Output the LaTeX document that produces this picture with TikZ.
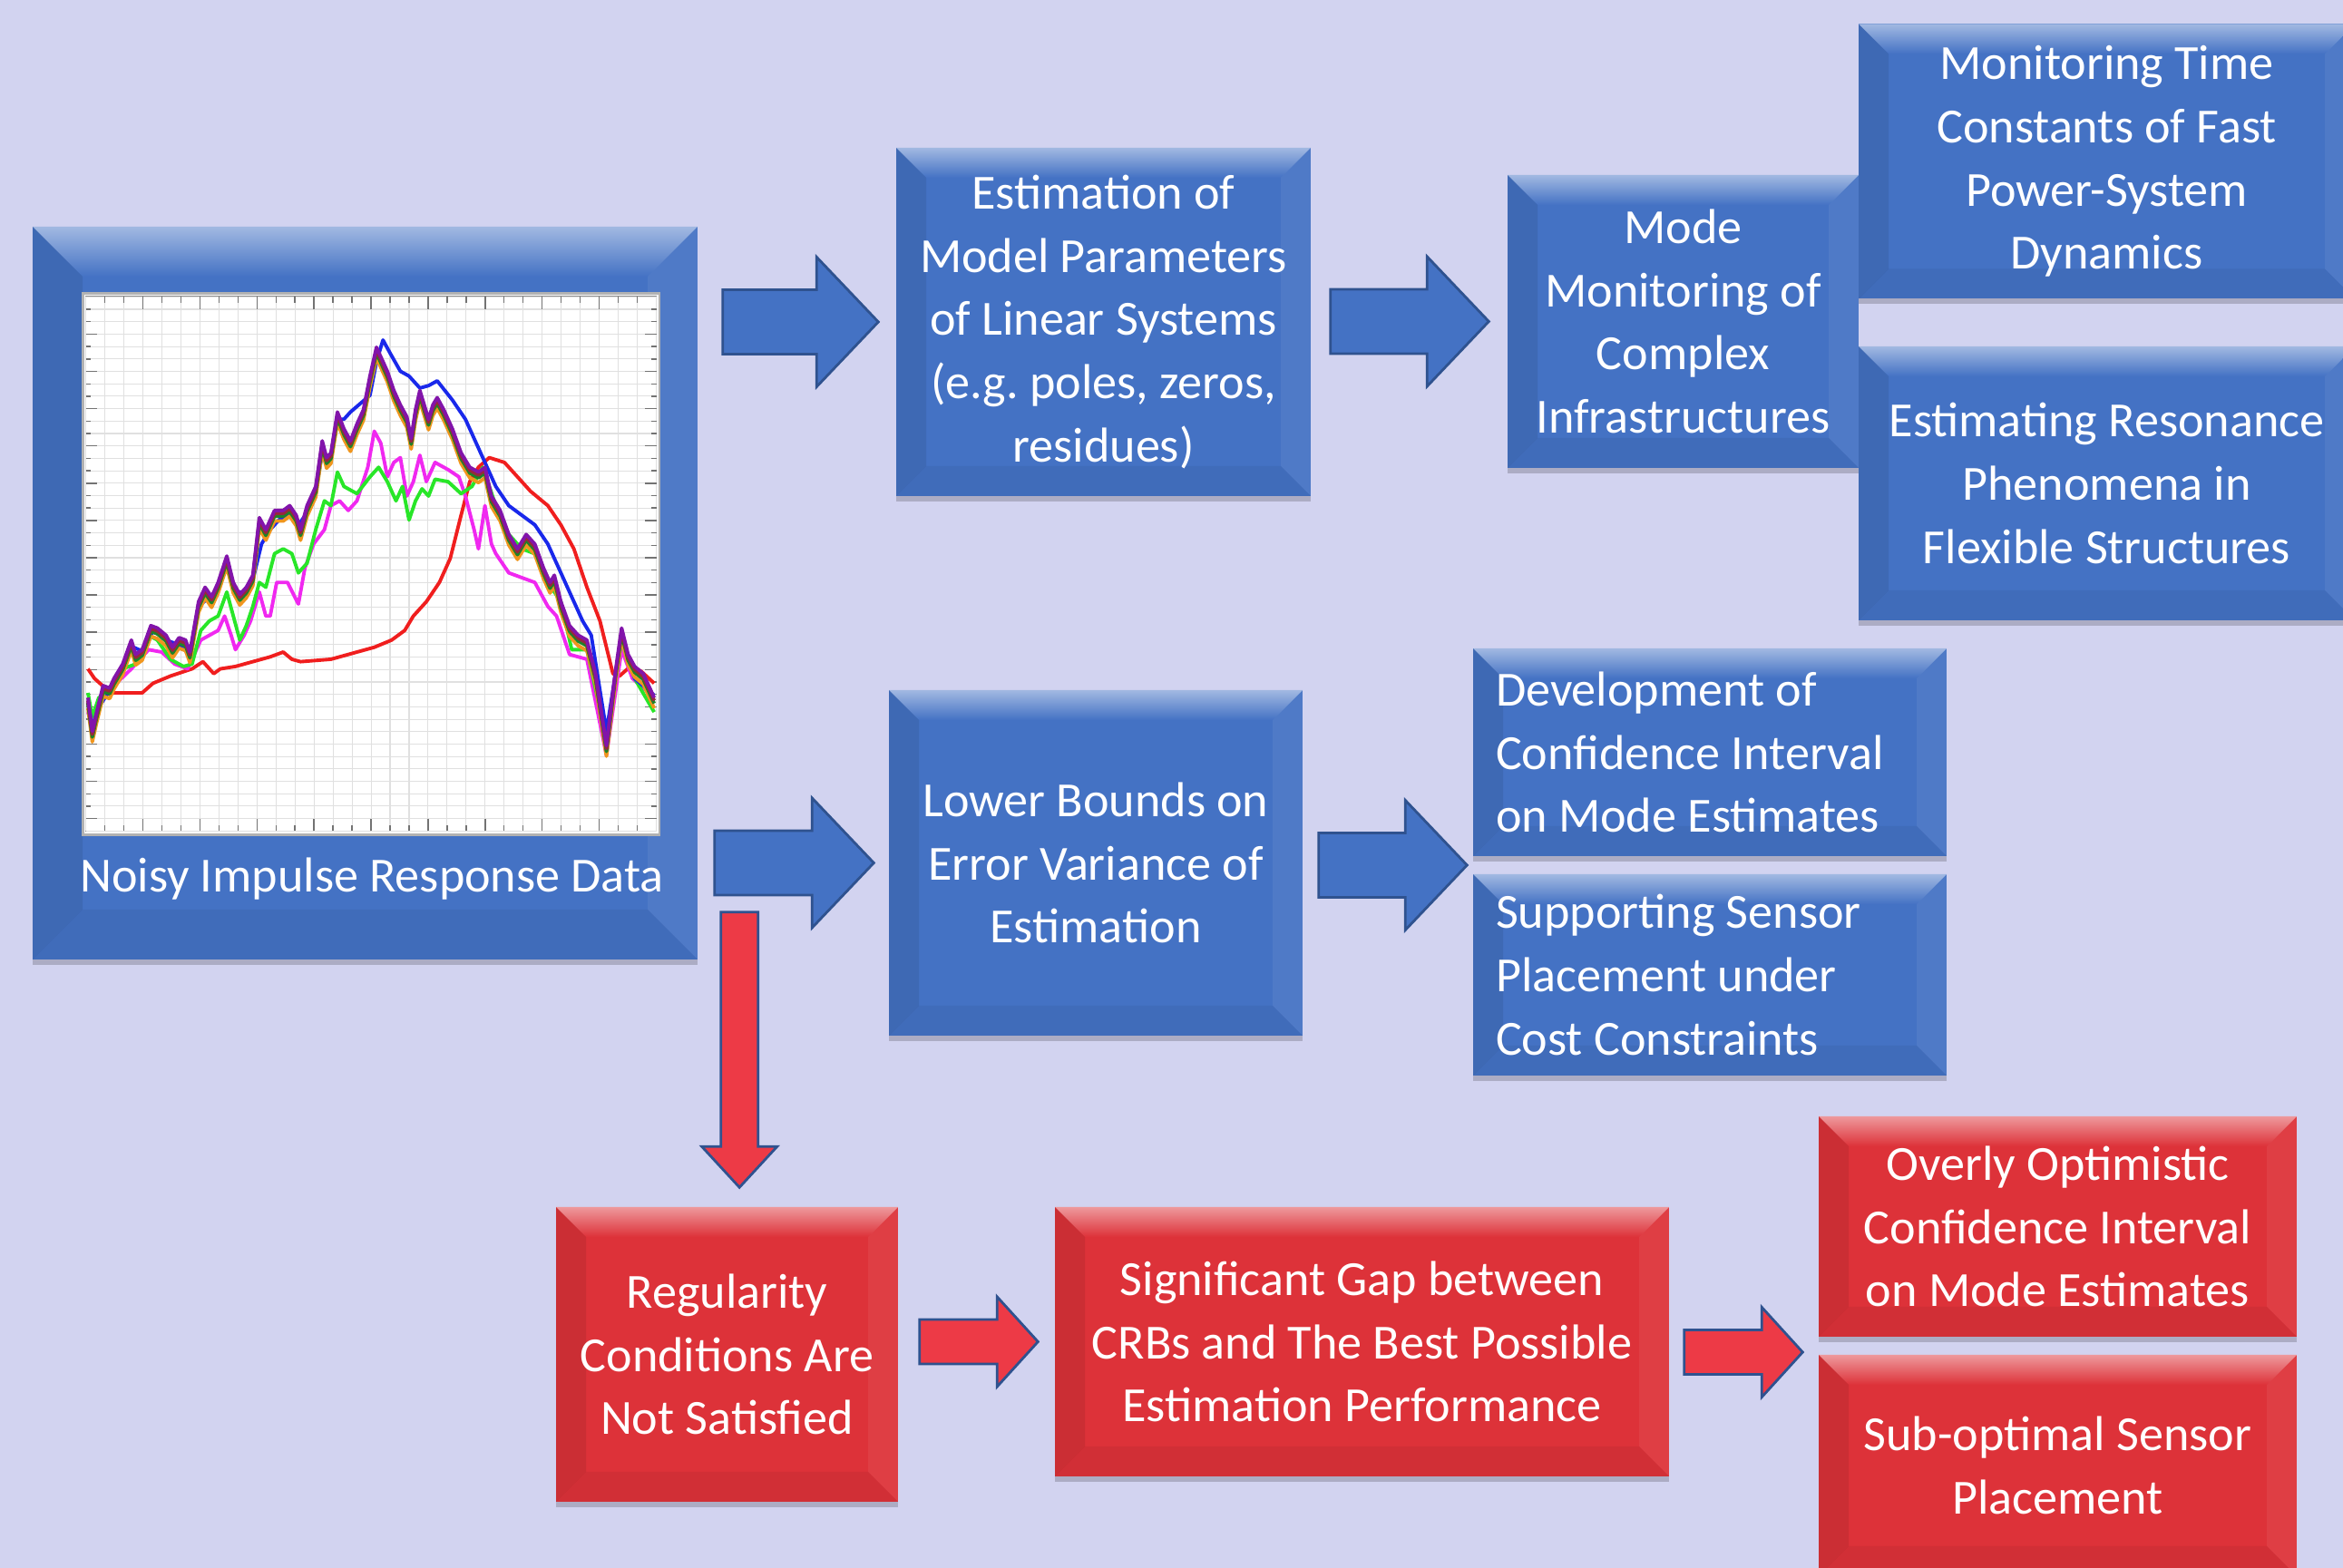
\documentclass[tikz,border=0pt]{standalone}
\usepackage{fontspec}
\setmainfont{Carlito}
\usetikzlibrary{calc, shadows}
\definecolor{bgcol}{RGB}{210,211,240}
\definecolor{boxblue}{RGB}{68,114,196}
\definecolor{boxred}{RGB}{221,50,57}
\definecolor{arrred}{RGB}{237,58,70}
\definecolor{arredge}{RGB}{47,82,143}
\definecolor{cblue}{RGB}{25,40,235}
\definecolor{cpurple}{RGB}{130,20,170}
\definecolor{cbrown}{RGB}{150,40,60}
\definecolor{corange}{RGB}{240,150,30}
\definecolor{cdkgreen}{RGB}{30,130,40}
\definecolor{cgreen}{RGB}{40,230,40}
\definecolor{cmagenta}{RGB}{240,40,240}
\definecolor{cred}{RGB}{240,30,30}

\tikzset{
  bevel/.style 2 args={path picture={
    \coordinate (pa) at (path picture bounding box.north west);
    \coordinate (pb) at (path picture bounding box.north east);
    \coordinate (pc) at (path picture bounding box.south east);
    \coordinate (pd) at (path picture bounding box.south west);
    \shade[top color=#2!50!white, bottom color=#2] (pa) -- (pb) -- ($(pb)+(-#1,-#1)$) -- ($(pa)+(#1,-#1)$) -- cycle;
    \fill[black, opacity=.08] (pa) -- ($(pa)+(#1,-#1)$) -- ($(pd)+(#1,#1)$) -- (pd) -- cycle;
    \fill[white, opacity=.06] (pb) -- ($(pb)+(-#1,-#1)$) -- ($(pc)+(-#1,#1)$) -- (pc) -- cycle;
    \fill[black, opacity=.05] (pd) -- ($(pd)+(#1,#1)$) -- ($(pc)+(-#1,#1)$) -- (pc) -- cycle;
  }},
  sz/.style 2 args={minimum width=#1cm, minimum height=#2cm},
  boxtext/.style={text=white, align=center, inner sep=0pt,
    font=\fontsize{15.4}{19.8}\selectfont},
  bluebox/.style={boxtext, fill=boxblue, bevel={0.33}{boxblue},
    drop shadow={shadow xshift=0cm, shadow yshift=-0.06cm, fill=black, opacity=0.18}},
  redbox/.style={boxtext, fill=boxred, bevel={0.33}{boxred},
    drop shadow={shadow xshift=0cm, shadow yshift=-0.06cm, fill=black, opacity=0.18}},
  harrow/.style n args={3}{to path={
    let \p1=(\tikztostart), \p2=(\tikztotarget) in
    (\x1,{\y1+#1}) -- ({\x2-#3},{\y1+#1}) -- ({\x2-#3},{\y1+#2}) -- (\x2,\y1)
    -- ({\x2-#3},{\y1-#2}) -- ({\x2-#3},{\y1-#1}) -- (\x1,{\y1-#1}) -- cycle}},
  varrow/.style n args={3}{to path={
    let \p1=(\tikztostart), \p2=(\tikztotarget) in
    ({\x1-#1},\y1) -- ({\x1-#1},{\y2+#3}) -- ({\x1-#2},{\y2+#3}) -- (\x1,\y2)
    -- ({\x1+#2},{\y2+#3}) -- ({\x1+#1},{\y2+#3}) -- ({\x1+#1},\y1) -- cycle}},
  bluearrow/.style={draw=arredge, fill=boxblue, line width=0.8pt},
  redarrow/.style={draw=arredge, fill=arrred, line width=0.8pt},
  gridln/.style={black!12, line width=0.3pt},
  tickln/.style={black!55, line width=0.4pt},
  crv/.style={line width=1.1pt, line join=round}
}

\begin{document}
\begin{tikzpicture}
\fill[bgcol] (0,0) rectangle (25.83,17.29);
\useasboundingbox (0,0) rectangle (25.83,17.29);

% blue boxes
\node[bluebox, bevel={0.55}{boxblue}, sz={7.33}{8.08}] (data) at (4.025,10.75) {};
\node[bluebox, sz={4.57}{3.84}] (est) at (12.165,13.74)
  {Estimation of\\Model Parameters\\of Linear Systems\\(e.g.\ poles, zeros,\\residues)};
\node[bluebox, sz={3.87}{3.23}] (mode) at (18.555,13.745)
  {Mode\\Monitoring of\\Complex\\Infrastructures};
\node[bluebox, sz={5.47}{3.03}] (mtc) at (23.225,15.51)
  {Monitoring Time\\Constants of Fast\\Power-System\\Dynamics};
\node[bluebox, sz={5.47}{3.02}] (res) at (23.225,11.96)
  {Estimating Resonance\\Phenomena in\\Flexible Structures};
\node[bluebox, sz={4.56}{3.81}] (low) at (12.08,7.775)
  {Lower Bounds on\\Error Variance of\\Estimation};
\node[bluebox, sz={5.22}{2.29}, align=flush left, text width=4.72cm] (dev) at (18.85,8.995)
  {Development of\\Confidence Interval\\on Mode Estimates};
\node[bluebox, sz={5.22}{2.22}, align=flush left, text width=4.72cm] (sup) at (18.85,6.54)
  {Supporting Sensor\\Placement under\\Cost Constraints};

% red boxes
\node[redbox, sz={3.77}{3.25}] (reg) at (8.015,2.355)
  {Regularity\\Conditions Are\\Not Satisfied};
\node[redbox, sz={6.77}{2.97}] (gap) at (15.015,2.495)
  {Significant Gap between\\CRBs and The Best Possible\\Estimation Performance};
\node[redbox, sz={5.27}{2.43}] (opt) at (22.685,3.765)
  {Overly Optimistic\\Confidence Interval\\on Mode Estimates};
\node[redbox, sz={5.27}{2.44}] (sub) at (22.685,1.13)
  {Sub-optimal Sensor\\Placement};

% impulse response plot
\begin{scope}[shift={(0.30,14.89)}, x=0.04783mm, y=-0.05293mm]
\fill[white, draw=black!30, line width=0.8pt] (128,158) rectangle (1457,1285);
\draw[black!45, line width=0.5pt] (135,165) rectangle (1450,1278);
\foreach \i in {0,...,30}
  \draw[gridln] ({135+\i*43.83},165) -- ++(0,1113);
\foreach \j in {0,...,43}
  \draw[gridln] (135,{165+\j*25.88}) -- ++(1315,0);
\foreach \i in {1,...,29} {
  \draw[tickln] ({135+\i*43.83},165) -- ++(0,12);
  \draw[tickln] ({135+\i*43.83},1278) -- ++(0,-12);
}
\foreach \i in {3,6,...,27} {
  \draw[tickln] ({135+\i*43.83},165) -- ++(0,26);
  \draw[tickln] ({135+\i*43.83},1278) -- ++(0,-26);
}
\foreach \j in {1,...,42} {
  \draw[tickln] (135,{165+\j*25.88}) -- ++(12,0);
  \draw[tickln] (1450,{165+\j*25.88}) -- ++(-12,0);
}
\foreach \j in {3,6,...,42} {
  \draw[tickln] (135,{165+\j*25.88}) -- ++(26,0);
  \draw[tickln] (1450,{165+\j*25.88}) -- ++(-26,0);
}
\draw[crv, cred] plot coordinates {(140,940) (155,960) (180,980) (200,990) (265,990) (290,970) (330,955) (380,940) (405,925) (420,940) (430,950) (445,940) (480,935) (520,925) (560,915) (590,905) (610,920) (630,925) (700,920) (760,905) (800,895) (840,880) (870,860) (890,830) (920,800) (950,760) (975,710) (1000,620) (1020,550) (1040,520) (1065,500) (1100,510) (1130,540) (1160,570) (1200,600) (1230,640) (1260,690) (1290,770) (1320,840) (1350,950) (1365,955) (1390,935) (1415,945) (1445,970)};
\draw[crv, cmagenta] plot coordinates {(140,1030) (150,1060) (170,1010) (200,975) (240,940) (280,900) (310,905) (340,930) (370,940) (400,880) (420,870) (440,860) (455,830) (470,870) (480,900) (500,870) (515,840) (535,780) (550,830) (560,830) (575,760) (600,760) (625,805) (640,730) (660,680) (685,650) (700,600) (720,590) (740,610) (760,590) (785,520) (800,445) (815,470) (830,540) (845,510) (860,500) (875,580) (890,550) (905,495) (920,550) (940,510) (970,525) (995,540) (1010,580) (1030,650) (1040,690) (1055,600) (1070,680) (1080,700) (1110,740) (1140,750) (1170,760) (1200,810) (1220,830) (1250,910) (1290,920) (1335,1120) (1370,900) (1395,960) (1445,1000)};
\draw[crv, cgreen] plot coordinates {(140,990) (150,1040) (165,1000) (190,990) (220,940) (250,930) (280,870) (300,880) (330,920) (360,935) (380,930) (400,860) (420,840) (440,830) (460,780) (475,830) (490,880) (505,850) (520,810) (535,760) (550,770) (570,700) (590,690) (610,700) (625,740) (645,720) (665,650) (685,590) (700,600) (715,530) (730,560) (760,575) (790,540) (810,520) (830,550) (850,590) (865,560) (880,630) (895,590) (910,565) (925,580) (940,545) (970,550) (1000,575) (1025,560) (1050,520) (1065,560) (1080,600) (1110,660) (1140,690) (1170,700) (1200,760) (1230,800) (1255,900) (1290,900) (1335,1085) (1370,880) (1400,960) (1445,1030)};
\draw[crv, cblue] plot coordinates {(140,1010) (150,1060) (165,1020) (190,985) (220,935) (245,895) (270,905) (290,860) (320,880) (350,890) (375,910) (395,810) (420,790) (440,775) (460,725) (480,780) (505,780) (520,755) (540,680) (560,650) (580,630) (605,615) (625,640) (645,615) (665,570) (680,490) (700,500) (715,420) (730,420) (745,405) (790,370) (805,300) (820,255) (835,280) (860,320) (880,330) (905,355) (925,350) (945,340) (980,380) (1010,420) (1045,490) (1080,560) (1110,600) (1140,620) (1170,640) (1200,680) (1240,760) (1280,840) (1300,870) (1335,1070) (1370,870) (1400,960) (1445,995)};
\foreach \dy/\col in {22/corange, 12/cdkgreen, 6/cbrown, 0/cpurple}
  \draw[crv, \col, shift={(0,\dy)}] plot coordinates {(140,1000) (150,1070) (160,1030) (175,975) (190,980) (200,960) (220,930) (240,880) (250,910) (265,900) (285,850) (300,855) (320,870) (335,895) (350,875) (365,880) (375,905) (395,800) (410,770) (425,790) (440,760) (460,705) (475,760) (490,785) (505,770) (520,745) (535,625) (550,650) (570,610) (590,610) (605,600) (620,620) (630,650) (645,600) (665,560) (680,465) (690,500) (700,490) (715,405) (730,440) (745,465) (760,430) (775,400) (790,330) (805,270) (815,290) (830,320) (845,360) (860,390) (875,415) (885,460) (895,400) (905,360) (915,390) (925,420) (935,390) (945,375) (960,400) (980,440) (1000,490) (1020,520) (1040,530) (1055,520) (1070,580) (1090,610) (1110,660) (1130,690) (1150,660) (1170,680) (1190,730) (1205,760) (1215,745) (1230,800) (1250,850) (1270,870) (1290,880) (1310,950) (1335,1100) (1355,950) (1370,855) (1385,910) (1400,935) (1420,950) (1445,1000)};
\end{scope}
\node[boxtext] (datalbl) at (4.10,7.60) {Noisy Impulse Response Data};

% block arrows
\draw[bluearrow, harrow={0.355cm}{0.715cm}{0.68cm}] ($(data.east |- est.west)+(0.27,0)$) to ($(est.west)+(-0.19,0)$);
\draw[bluearrow, harrow={0.355cm}{0.715cm}{0.68cm}] ($(est.east |- mode.west)+(0.21,0)$) to ($(mode.west)+(-0.20,0)$);
\draw[bluearrow, harrow={0.355cm}{0.715cm}{0.68cm}] ($(data.east |- low.west)+(0.18,0)$) to ($(low.west)+(-0.16,0)$);
\coordinate (devsup) at ($(dev.south west)!0.5!(sup.north west)$);
\draw[bluearrow, harrow={0.355cm}{0.715cm}{0.68cm}] ($(low.east |- devsup)+(0.17,0)$) to ($(devsup)+(-0.06,0)$);
\draw[redarrow, varrow={0.205cm}{0.415cm}{0.45cm}] ($(data.south east)+(0.455,0.53)$) to ($(reg.north)+(0.13,0.21)$);
\draw[redarrow, harrow={0.245cm}{0.495cm}{0.45cm}] ($(reg.east |- gap.west)+(0.23,0)$) to ($(gap.west)+(-0.18,0)$);
\coordinate (optsub) at ($(opt.south west)!0.5!(sub.north west)+(0,-0.07)$);
\draw[redarrow, harrow={0.245cm}{0.495cm}{0.45cm}] ($(gap.east |- optsub)+(0.16,0)$) to ($(optsub)+(-0.17,0)$);
\end{tikzpicture}
\end{document}
